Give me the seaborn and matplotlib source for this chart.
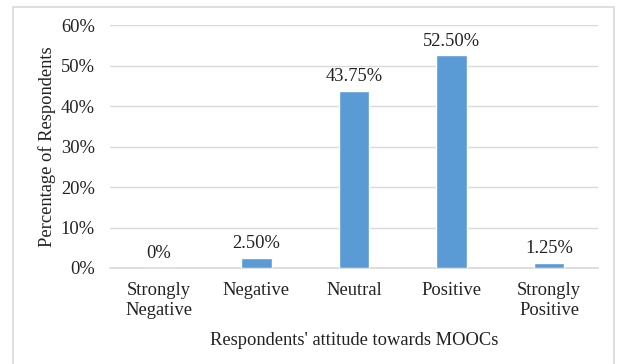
import pandas as pd
import matplotlib.pyplot as plt
import seaborn as sns
from matplotlib.patches import Rectangle
from matplotlib.ticker import PercentFormatter

# --- Data ---
categories = ['Strongly\nNegative', 'Negative', 'Neutral', 'Positive', 'Strongly\nPositive']
percentages = [0.0, 2.50, 43.75, 52.50, 1.25]
value_labels = ['0%', '2.50%', '43.75%', '52.50%', '1.25%']

BAR_COLOR = '#5B9BD5'
GRID_COLOR = '#D9D9D9'
TEXT_COLOR = '#222222'
FS = 13.3


def main():
    df = pd.DataFrame({'Attitude': categories, 'Percent': percentages})

    sns.set_theme(style="white")
    plt.rcParams['font.family'] = ['Liberation Serif', 'DejaVu Serif']

    fig = plt.figure(figsize=(6.17, 3.64), dpi=100)
    ax = fig.add_axes([110 / 617, 1 - 268 / 364, 488 / 617, 243 / 364])

    sns.barplot(data=df, x='Attitude', y='Percent', color=BAR_COLOR,
                width=0.31, saturation=1, ax=ax, zorder=3)

    # Value labels
    for i, (v, lab) in enumerate(zip(percentages, value_labels)):
        ax.annotate(lab, xy=(i, v), xytext=(0, 4), textcoords='offset points',
                    ha='center', va='bottom', fontsize=FS, color=TEXT_COLOR)

    ax.set_ylim(0, 60)
    ax.set_yticks(range(0, 61, 10))
    ax.yaxis.set_major_formatter(PercentFormatter(decimals=0))
    ax.yaxis.grid(True, color=GRID_COLOR, linewidth=1, zorder=0)
    ax.set_axisbelow(True)
    for s in ['top', 'right', 'left']:
        ax.spines[s].set_visible(False)
    ax.spines['bottom'].set_color(GRID_COLOR)
    ax.tick_params(axis='both', length=0, labelsize=FS, colors=TEXT_COLOR)
    ax.tick_params(axis='y', pad=11)
    ax.tick_params(axis='x', pad=10)
    for t in ax.get_xticklabels():
        t.set_linespacing(1.25)

    ax.set_xlabel("Respondents' attitude towards MOOCs", fontsize=FS, color=TEXT_COLOR, labelpad=9)
    ax.set_ylabel('Percentage of Respondents', fontsize=FS, color=TEXT_COLOR, labelpad=3)

    # Outer chart border
    fig.patches.append(Rectangle((13 / 617, -0.01), 601 / 617, 1 - 7 / 364 + 0.01,
                                 transform=fig.transFigure, fill=False,
                                 edgecolor='#D9D9D9', linewidth=1.2))

    fig.savefig('out.png', dpi=100)


if __name__ == "__main__":
    main()
